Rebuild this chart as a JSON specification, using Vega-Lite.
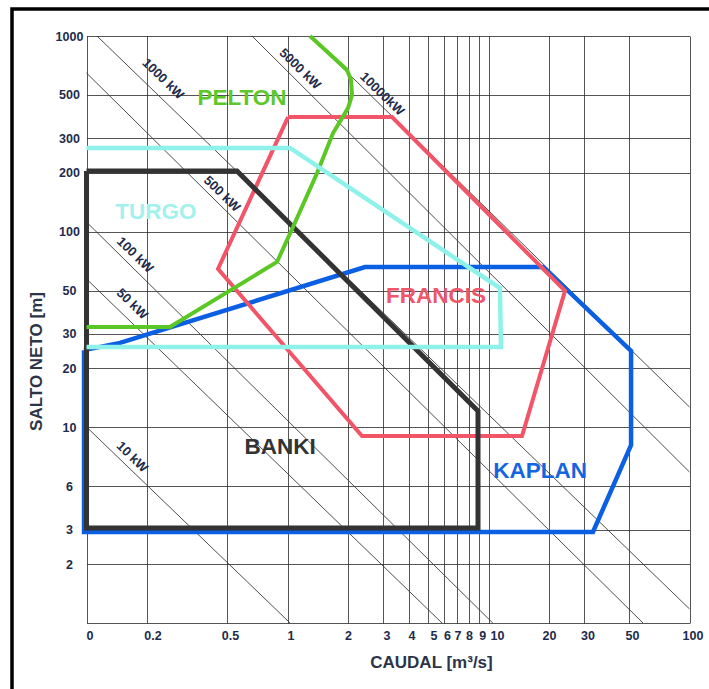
{
  "$schema": "https://vega.github.io/schema/vega-lite/v6.json",
  "autosize": {"type": "none"},
  "width": 702,
  "height": 685,
  "padding": {"left": 12, "top": 9, "right": -5, "bottom": -5},
  "background": "white",
  "config": {
    "view": {"stroke": "#000000", "strokeWidth": 3.5, "fill": "white"},
    "font": "Liberation Sans"
  },
  "datasets": {
    "turb": [
      {"t": "PELTON", "i": 0, "q": 1.294, "h": 1000},
      {"t": "PELTON", "i": 1, "q": 1.977, "h": 670},
      {"t": "PELTON", "i": 2, "q": 2.07, "h": 596},
      {"t": "PELTON", "i": 3, "q": 2.094, "h": 499},
      {"t": "PELTON", "i": 4, "q": 2.0, "h": 428},
      {"t": "PELTON", "i": 5, "q": 1.685, "h": 319},
      {"t": "PELTON", "i": 6, "q": 1.402, "h": 199},
      {"t": "PELTON", "i": 7, "q": 1.065, "h": 105.7},
      {"t": "PELTON", "i": 8, "q": 0.887, "h": 70.0},
      {"t": "PELTON", "i": 9, "q": 0.26, "h": 32.6},
      {"t": "PELTON", "i": 10, "q": 0.1, "h": 32.6},
      {"t": "TURGO", "i": 0, "q": 0.1, "h": 267.7},
      {"t": "TURGO", "i": 1, "q": 1.029, "h": 267.7},
      {"t": "TURGO", "i": 2, "q": 11.4, "h": 51.5},
      {"t": "TURGO", "i": 3, "q": 11.54, "h": 25.7},
      {"t": "TURGO", "i": 4, "q": 0.1, "h": 25.7},
      {"t": "BANKI", "i": 0, "q": 0.1, "h": 204},
      {"t": "BANKI", "i": 1, "q": 0.561, "h": 204},
      {"t": "BANKI", "i": 2, "q": 8.867, "h": 12.12},
      {"t": "BANKI", "i": 3, "q": 8.867, "h": 3.06},
      {"t": "BANKI", "i": 4, "q": 0.1, "h": 3.06},
      {"t": "BANKI", "i": 5, "q": 0.1, "h": 204},
      {"t": "FRANCIS", "i": 0, "q": 1.006, "h": 385},
      {"t": "FRANCIS", "i": 1, "q": 3.311, "h": 385},
      {"t": "FRANCIS", "i": 2, "q": 24.03, "h": 49.8},
      {"t": "FRANCIS", "i": 3, "q": 14.68, "h": 9.03},
      {"t": "FRANCIS", "i": 4, "q": 2.348, "h": 9.03},
      {"t": "FRANCIS", "i": 5, "q": 0.451, "h": 64.5},
      {"t": "FRANCIS", "i": 6, "q": 1.006, "h": 385},
      {"t": "KAPLAN", "i": 0, "q": 0.0972, "h": 24.8},
      {"t": "KAPLAN", "i": 1, "q": 0.1468, "h": 27.0},
      {"t": "KAPLAN", "i": 2, "q": 2.43, "h": 66.0},
      {"t": "KAPLAN", "i": 3, "q": 18.67, "h": 66.0},
      {"t": "KAPLAN", "i": 4, "q": 51.2, "h": 24.6},
      {"t": "KAPLAN", "i": 5, "q": 51.2, "h": 8.12},
      {"t": "KAPLAN", "i": 6, "q": 33.1, "h": 2.92},
      {"t": "KAPLAN", "i": 7, "q": 0.0972, "h": 2.92},
      {"t": "KAPLAN", "i": 8, "q": 0.0972, "h": 24.8}
    ],
    "power": [
      {"p": "10", "i": 0, "q": 0.1, "h": 10.04},
      {"p": "10", "i": 1, "q": 1.03, "h": 1},
      {"p": "50", "i": 0, "q": 0.1, "h": 57.3},
      {"p": "50", "i": 1, "q": 5.87, "h": 1},
      {"p": "100", "i": 0, "q": 0.1, "h": 112},
      {"p": "100", "i": 1, "q": 10.5, "h": 1},
      {"p": "500", "i": 0, "q": 0.1, "h": 647},
      {"p": "500", "i": 1, "q": 58.7, "h": 1},
      {"p": "1000", "i": 0, "q": 0.1128, "h": 1000},
      {"p": "1000", "i": 1, "q": 100, "h": 1.18},
      {"p": "5000", "i": 0, "q": 0.666, "h": 1000},
      {"p": "5000", "i": 1, "q": 100, "h": 5.91},
      {"p": "10000", "i": 0, "q": 1.294, "h": 1000},
      {"p": "10000", "i": 1, "q": 100, "h": 12.7}
    ],
    "names": [
      {"name": "PELTON", "q": 0.594, "h": 482},
      {"name": "TURGO", "q": 0.2217, "h": 126},
      {"name": "BANKI", "q": 0.918, "h": 7.93},
      {"name": "FRANCIS", "q": 5.48, "h": 46.9},
      {"name": "KAPLAN", "q": 18.04, "h": 5.98}
    ],
    "plabels": [
      {"label": "10 kW", "q": 0.1684, "h": 7.05},
      {"label": "50 kW", "q": 0.1684, "h": 42.7},
      {"label": "100 kW", "q": 0.1743, "h": 76.0},
      {"label": "500 kW", "q": 0.472, "h": 155.8},
      {"label": "1000 kW", "q": 0.2402, "h": 603},
      {"label": "5000 kW", "q": 1.154, "h": 678},
      {"label": "10000kW", "q": 2.952, "h": 505}
    ]
  },
  "encoding": {
    "x": {
      "field": "q", "type": "quantitative",
      "scale": {"type": "log", "domain": [0.1, 100], "range": [74.5, 677.5]},
      "axis": {
        "orient": "top", "offset": -614,
        "grid": true, "gridColor": "#2a2a2a", "gridOpacity": 0.8, "gridWidth": 1,
        "domain": false, "ticks": false, "tickSize": 0,
        "values": [0.1, 0.2, 0.5, 1, 2, 3, 4, 5, 6, 7, 8, 9, 10, 20, 30, 50, 100],
        "format": "~g",
        "labelExpr": "datum.value == 0.1 ? '0' : datum.label",
        "labelFont": "Liberation Sans", "labelFontSize": 12.5, "labelFontWeight": "bold", "labelColor": "#1d2b4c",
        "labelPadding": -6.5, "labelBaseline": "top", "labelOverlap": false, "labelFlush": false,
        "labelOffset": {
          "condition": [
            {"test": "datum.value == 10", "value": 8.5},
            {"test": "datum.value == 0.2 || datum.value == 5", "value": 5.5},
            {"test": "datum.value == 2 || datum.value == 7 || datum.value == 8 || datum.value == 20", "value": 0}
          ],
          "value": 3
        },
        "title": "CAUDAL [m³/s]", "titleFont": "Liberation Sans", "titleFontSize": 17, "titleFontWeight": "bold",
        "titleColor": "#2c3548", "titleX": 419, "titleY": 39, "titleAngle": 0, "titleAlign": "center", "titleBaseline": "middle"
      }
    },
    "y": {
      "field": "h", "type": "quantitative",
      "scale": {"type": "log", "domain": [1, 1000], "range": [614, 27]},
      "axis": {
        "orient": "left", "offset": -74.5,
        "grid": true, "gridColor": "#2a2a2a", "gridOpacity": 0.8, "gridWidth": 1,
        "domain": false, "ticks": false, "tickSize": 0,
        "values": [1, 2, 3, 5, 10, 20, 30, 50, 100, 200, 300, 500, 1000],
        "format": "~g",
        "labelExpr": "datum.value == 5 ? '6' : (datum.value == 1 ? '' : datum.label)",
        "labelFont": "Liberation Sans", "labelFontSize": 12.5, "labelFontWeight": "bold", "labelColor": "#1d2b4c",
        "labelAlign": "center", "labelPadding": 17.5, "labelOverlap": false, "labelFlush": false,
        "title": "SALTO NETO [m]", "titleFont": "Liberation Sans", "titleFontSize": 17, "titleFontWeight": "bold",
        "titleColor": "#2c3548", "titleX": -50, "titleY": 352, "titleAngle": -90, "titleAlign": "center", "titleBaseline": "middle"
      }
    }
  },
  "layer": [
    {
      "data": {"name": "power"},
      "mark": {"type": "line", "stroke": "#3a3a3a", "strokeWidth": 0.9},
      "encoding": {
        "detail": {"field": "p", "type": "nominal"},
        "order": {"field": "i", "type": "quantitative"}
      }
    },
    {
      "data": {"name": "turb"},
      "transform": [{"filter": "datum.t == 'KAPLAN'"}],
      "mark": {"type": "line", "stroke": "#0b5fe3", "strokeWidth": 4.5},
      "encoding": {"order": {"field": "i", "type": "quantitative"}}
    },
    {
      "data": {"name": "turb"},
      "transform": [{"filter": "datum.t == 'FRANCIS'"}],
      "mark": {"type": "line", "stroke": "#f25468", "strokeWidth": 4},
      "encoding": {"order": {"field": "i", "type": "quantitative"}}
    },
    {
      "data": {"name": "turb"},
      "transform": [{"filter": "datum.t == 'BANKI'"}],
      "mark": {"type": "line", "stroke": "#333333", "strokeWidth": 5},
      "encoding": {"order": {"field": "i", "type": "quantitative"}}
    },
    {
      "data": {"name": "turb"},
      "transform": [{"filter": "datum.t == 'PELTON'"}],
      "mark": {"type": "line", "stroke": "#5ac724", "strokeWidth": 4},
      "encoding": {"order": {"field": "i", "type": "quantitative"}}
    },
    {
      "data": {"name": "turb"},
      "transform": [{"filter": "datum.t == 'TURGO'"}],
      "mark": {"type": "line", "stroke": "#8ef2ea", "strokeWidth": 4.5},
      "encoding": {"order": {"field": "i", "type": "quantitative"}}
    },
    {
      "data": {"name": "names"},
      "mark": {"type": "text", "font": "Liberation Sans", "fontSize": 22.5, "fontWeight": "bold", "align": "center", "baseline": "middle"},
      "encoding": {
        "text": {"field": "name", "type": "nominal"},
        "color": {
          "field": "name", "type": "nominal", "legend": null,
          "scale": {"domain": ["PELTON", "TURGO", "BANKI", "FRANCIS", "KAPLAN"], "range": ["#5cc82a", "#a2f1ec", "#333333", "#f0566a", "#1565e0"]}
        }
      }
    },
    {
      "data": {"name": "plabels"},
      "mark": {"type": "text", "font": "Liberation Sans", "fontSize": 13, "fontWeight": "bold", "align": "center", "baseline": "middle", "angle": 44, "color": "#1f2b48"},
      "encoding": {
        "text": {"field": "label", "type": "nominal"}
      }
    }
  ]
}
